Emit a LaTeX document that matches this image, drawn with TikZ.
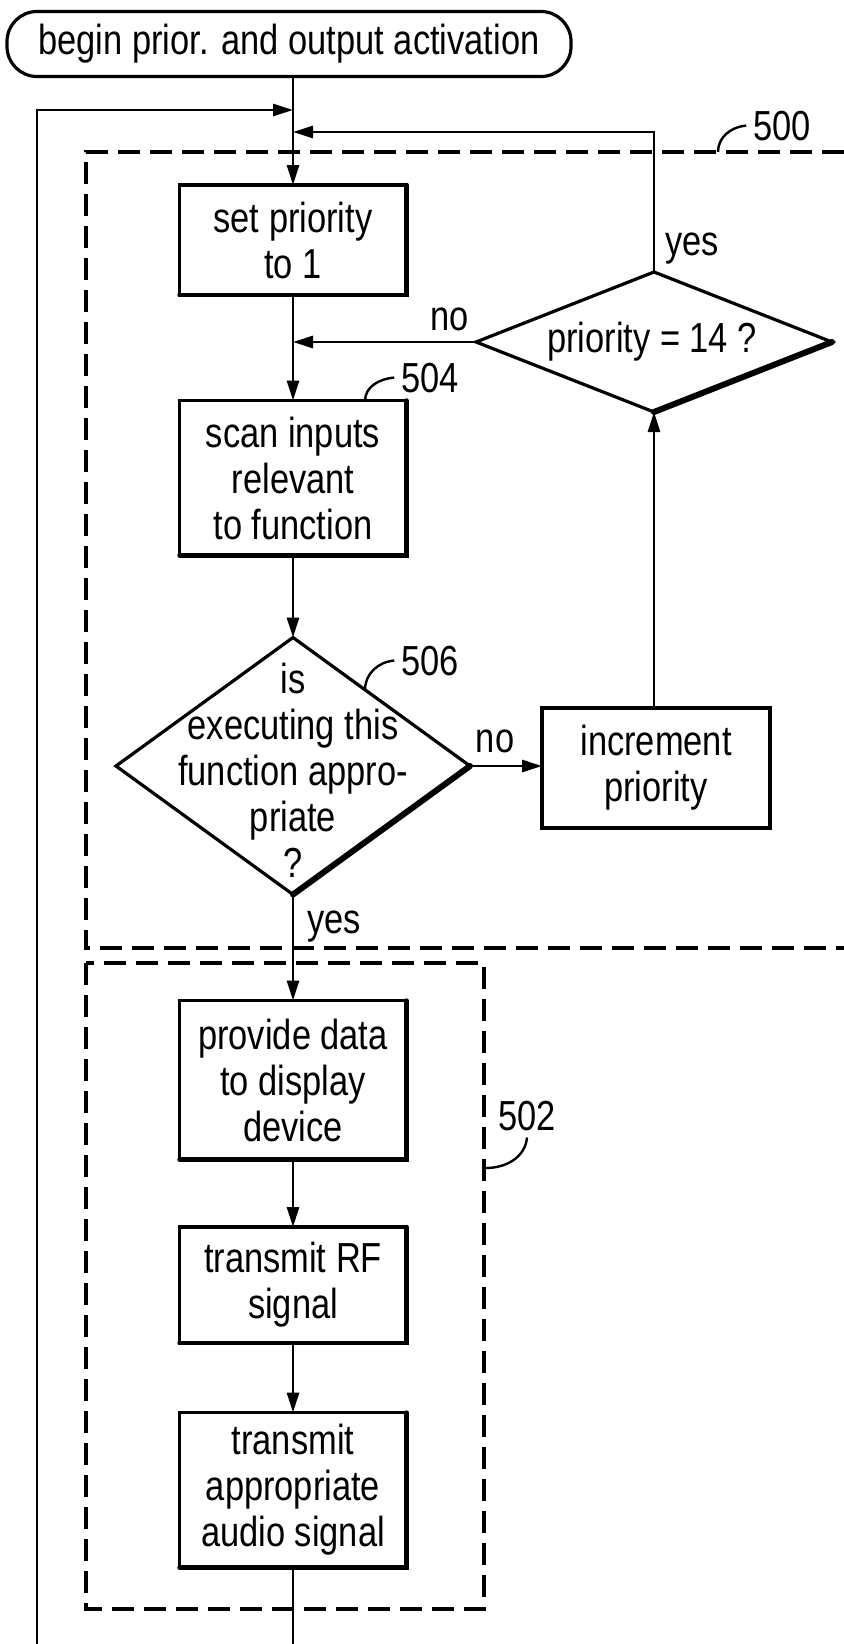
\documentclass[tikz,border=0pt]{standalone}
\usepackage{fontspec}
\setmainfont{Liberation Sans}[FakeStretch=0.82]
\usetikzlibrary{arrows.meta,shapes.geometric}

\tikzset{
    box/.style={draw, line width=1.6pt, outer sep=0pt, inner sep=2pt, minimum width=113.5pt, align=center},
    decision/.style={draw, diamond, line width=1.6pt, outer sep=0pt, inner sep=0pt},
    flow/.style={line width=1.4pt, -{Triangle[length=10pt,width=6pt]}},
    wire/.style={line width=1.4pt},
    group/.style={line width=1.7pt, dash pattern=on 11pt off 5pt},
    leader/.style={line width=1.2pt},
    heavy/.style={line width=2.2pt, line cap=round},
    heavier/.style={line width=3pt, line cap=round},
}

\begin{document}
\begin{tikzpicture}[x=0.5pt, y=-0.5pt, font=\fontsize{21pt}{23pt}\selectfont]
    \useasboundingbox (0,0) rectangle (844,1644);

    % Gruppen
    \draw[group] (844,152) -- (86,152) -- (86,948) -- (844,948);
    \draw[group] (86,963) rectangle (484,1609);

    % Knoten
    \node[draw, line width=1.6pt, rounded corners=15pt, minimum width=282pt, minimum height=32.5pt] (start) at (289,44) {begin prior. and output activation};
    \node[box, minimum height=55pt] (setprio) at (293,240) {set priority\\to 1};
    \node[decision, minimum width=178pt, minimum height=70pt] (prio) at (654,342) {};
    \node (priotext) at (652,342) {priority = 14 ?};
    \node[box, minimum height=77.5pt] (scan) at (293,478) {scan inputs\\relevant\\to function};
    \node[decision, minimum width=177pt, minimum height=128.5pt] (check) at (293,766) {};
    \node[align=center, inner sep=0pt] (checktext) at (293,770) {is\\executing this\\function appro-\\priate\\?};
    \node[box, minimum width=114pt, minimum height=60pt] (incprio) at (656,768) {increment\\priority};
    \node[box, minimum height=79.5pt] (provide) at (293,1080) {provide data\\to display\\device};
    \node[box, minimum height=58pt] (rf) at (293,1285) {transmit RF\\signal};
    \node[box, minimum height=77.5pt] (audio) at (293,1490) {transmit\\appropriate\\audio signal};

    % Schatten
    \foreach \n in {setprio,scan,incprio,provide,rf,audio}
        \draw[heavy] (\n.north east) -- (\n.south east) -- (\n.south west);
    \draw[heavier] (prio.east) -- (prio.south);
    \draw[heavier] (check.east) -- (check.south);

    % Hilfspunkte
    \coordinate (loopjoin) at (293,110);
    \coordinate (yesjoin) at (293,132);
    \coordinate (nojoin) at (293,342);
    \coordinate (loopbot) at (37,1644);
    \coordinate (outbot) at (293,1644);

    % Pfeile
    \draw[flow] (start.south -| setprio) -- (setprio.north);
    \draw[flow] (loopbot) |- (loopjoin);
    \draw[flow] (prio.north) |- (yesjoin);
    \draw[flow] (prio.west) -- (nojoin);
    \draw[flow] (setprio) -- (scan);
    \draw[flow] (scan) -- (check.north);
    \draw[flow] (check.east) -- (check.east -| incprio.west);
    \draw[flow] (prio.south |- incprio.north) -- (prio.south);
    \draw[flow] (check.south) -- (provide);
    \draw[flow] (provide) -- (rf);
    \draw[flow] (rf) -- (audio);
    \draw[wire] (audio) -- (outbot);

    % Beschriftungen
    \node[anchor=base west] (yesprio) at (658,255) {yes};
    \node[anchor=base] (noprio) at (450,330) {no};
    \node[anchor=base] (nocheck) at (495,752) {no};
    \node[anchor=base west] (yescheck) at (300,933) {yes};

    % Bezugszeichen
    \node[anchor=base] (lab500) at (782,140) {500};
    \node[anchor=base] (lab504) at (430,392) {504};
    \node[anchor=base] (lab506) at (430,675) {506};
    \node[anchor=base] (lab502) at (527,1130) {502};
    \draw[leader] (718,152) to[out=90,in=185] (lab500.west);
    \draw[leader] (365,401) to[out=90,in=185] (lab504.west);
    \draw[leader] (365,690) to[out=90,in=185] (lab506.west);
    \draw[leader] (486,1168) to[out=0,in=-95] (lab502.south);
\end{tikzpicture}
\end{document}
